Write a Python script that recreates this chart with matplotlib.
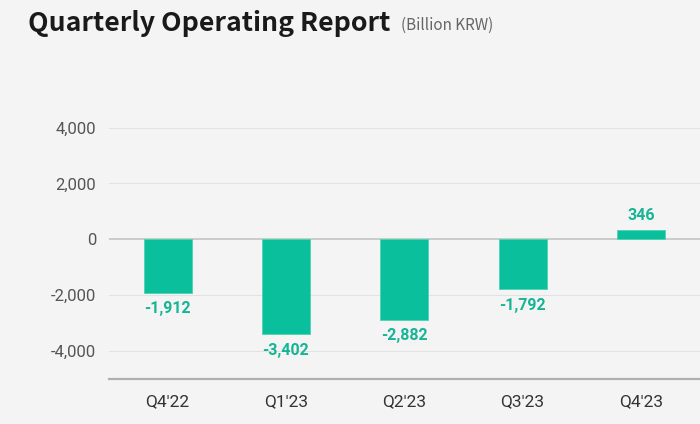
#!/usr/bin/env python3
import matplotlib.pyplot as plt

quarters = ["Q4'22", "Q1'23", "Q2'23", "Q3'23", "Q4'23"]
operating = [-1912, -3402, -2882, -1792, 346]
value_labels = ["-1,912", "-3,402", "-2,882", "-1,792", "346"]
yticks = [-4000, -2000, 0, 2000, 4000]

bg = '#f4f4f4'
bar_color = '#0abf9c'
label_color = '#17b495'

fig = plt.figure(figsize=(7, 4.24), dpi=100, facecolor=bg)
ax = fig.add_axes([0.155, 0.106, 0.845, 0.659], facecolor=bg)

x = range(len(quarters))
ax.bar(x, operating, width=0.405, color=bar_color, edgecolor='#4fd1b5', linewidth=0.6, zorder=3)

# value labels under negative bars, above positive ones
for i, (v, lab) in enumerate(zip(operating, value_labels)):
    if v < 0:
        ax.annotate(lab, (i, v), xytext=(0, -6), textcoords='offset points',
                    ha='center', va='top', fontsize=11.5, fontweight='bold',
                    color=label_color, family='Roboto')
    else:
        ax.annotate(lab, (i, v), xytext=(0, 5), textcoords='offset points',
                    ha='center', va='bottom', fontsize=11.5, fontweight='bold',
                    color=label_color, family='Roboto')

ax.set_xlim(-0.5, 4.5)
ax.set_ylim(-5000, 5000)
ax.set_yticks(yticks)
ax.set_yticklabels([f"{t:,}" for t in yticks], family='Roboto', fontsize=12, color='#555555')
ax.set_xticks(list(x))
ax.set_xticklabels(quarters, family='Roboto', fontsize=12.5, color='#333333')
ax.tick_params(axis='both', length=0)
ax.tick_params(axis='y', pad=9)
ax.tick_params(axis='x', pad=11)

for t in yticks:
    if t == 0:
        ax.axhline(t, color='#c4c4c4', linewidth=1.2, zorder=2)
    else:
        ax.axhline(t, color='#e2e2e2', linewidth=0.8, zorder=1)

for side in ['top', 'right', 'left']:
    ax.spines[side].set_visible(False)
ax.spines['bottom'].set_color('#b0b0b0')
ax.spines['bottom'].set_linewidth(1.6)

fig.text(0.04, 0.945, "Quarterly Operating Report", fontsize=19.2, fontweight='bold',
         color='#1a1a1a', family=['Noto Sans CJK KR', 'DejaVu Sans'], va='center')
fig.text(0.573, 0.94, "(Billion KRW)", fontsize=11, color='#666666',
         family=['Noto Sans CJK KR', 'DejaVu Sans'], va='center')

fig.savefig('out.png', dpi=100, facecolor=bg)
